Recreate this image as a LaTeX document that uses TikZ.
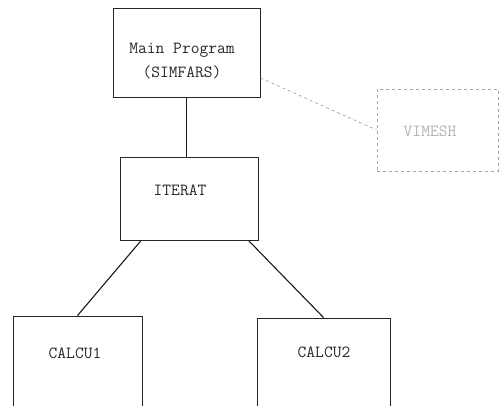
\documentclass[tikz,border=0pt]{standalone}
\usepackage{tikz}

\begin{document}
\begin{tikzpicture}[x=1pt,y=-1pt,
		modul/.style={draw=black!85,line width=0.9pt,minimum width=#1,inner sep=0pt},
		extern/.style={draw=black!35,dashed,line width=0.7pt,inner sep=0pt},
		caption/.style={font=\fontsize{17}{22}\ttfamily,text=black!85,align=center,inner sep=0pt},
		link/.style={draw=black!90,line width=1.1pt}]
		\clip (0,0) rectangle (500,405);
		% boxes
		\node[modul=147pt,minimum height=89pt] (main) at (186.5,52.5) {};
		\node[modul=138pt,minimum height=83pt] (iterat) at (189,199) {};
		\node[modul=129pt,minimum height=96pt] (calcu1) at (77.5,364) {};
		\node[modul=133pt,minimum height=94pt] (calcu2) at (323.5,365) {};
		\node[extern,minimum width=121pt,minimum height=82pt] (vimesh) at (437.5,130) {};
		% texts
		\node[caption] (mainlbl) at (182,61) {Main Program\\[2pt](SIMFARS)};
		\node[caption] (iteratlbl) at (180,190) {ITERAT};
		\node[caption] (calcu1lbl) at (75,353) {CALCU1};
		\node[caption] (calcu2lbl) at (324,352) {CALCU2};
		\node[caption,text=black!30] (vimeshlbl) at (430,131) {VIMESH};
		% connectors
		\draw[link] (main.south) -- (main.south |- iterat.north);
		\draw[link] (iterat.221) -- (calcu1.north);
		\draw[link] (iterat.-35) -- (calcu2.north);
		\draw[black!40,dashed,line width=0.6pt] (main.-19) -- (vimesh.west);
\end{tikzpicture}
\end{document}
